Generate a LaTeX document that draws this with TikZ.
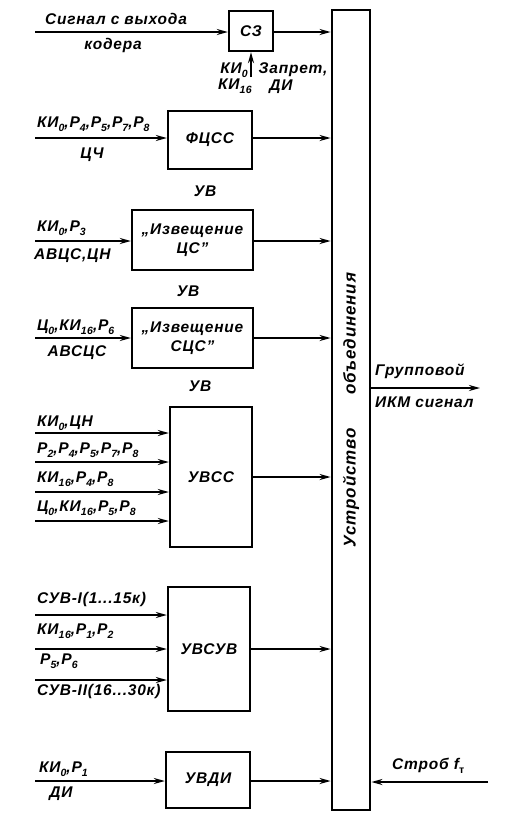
\documentclass[tikz,border=0pt]{standalone}
\usepackage{fontspec}
\setmainfont{Liberation Sans}
\newfontfamily\lblfont[LetterSpace=5]{Liberation Sans}
\usetikzlibrary{arrows.meta}
\newcommand\lowidx[1]{\raisebox{-0.45ex}{\fontsize{10.5}{10.5}\selectfont #1}}
\begin{document}
\begin{tikzpicture}[x=1pt,y=-1pt,
  blk/.style={draw, line width=2.3pt, inner sep=0pt, font=\lblfont\fontsize{15.5}{19}\selectfont\bfseries\itshape, align=center},
  lbl/.style={font=\lblfont\fontsize{15.5}{17}\selectfont\bfseries\itshape, inner sep=0pt},
  sig/.style={line width=2pt, -{Stealth[length=11pt,width=6pt]}}
]
\useasboundingbox (0,0) rectangle (517,815);
% blocks
\node[blk, minimum width=44pt, minimum height=40pt] (cz) at (251,31) {СЗ};
\node[blk, minimum width=84pt, minimum height=58pt] (fcss) at (210,140) {ФЦСС};
\node[blk, minimum width=121pt, minimum height=60pt] (izcs) at (192.5,240) {„Извещение\\ЦС”};
\node[blk, minimum width=121pt, minimum height=60pt] (izscs) at (192.5,338) {„Извещение\\СЦС”};
\node[blk, minimum width=82pt, minimum height=140pt] (uvss) at (211,477) {УВСС};
\node[blk, minimum width=82pt, minimum height=124pt] (uvsuv) at (209,649) {УВСУВ};
\node[blk, minimum width=84pt, minimum height=56pt] (uvdi) at (208,780) {УВДИ};
\node[draw, line width=2.8pt, minimum width=38pt, minimum height=800pt, inner sep=0pt] (big) at (351,410) {};
\node[lbl, rotate=90, font=\lblfont\fontsize{17}{19}\selectfont\bfseries\itshape] (bigt) at (351,410) {Устройство\hspace{34pt}объединения};

% input coordinates
\coordinate (i0) at (35,32);
\coordinate (i1) at (35,138);
\coordinate (i2) at (35,241);
\coordinate (i3) at (35,338);
\coordinate (i4a) at (35,433);
\coordinate (i4b) at (35,462);
\coordinate (i4c) at (35,492);
\coordinate (i4d) at (35,521);
\coordinate (i5a) at (35,615);
\coordinate (i5b) at (35,649);
\coordinate (i5c) at (35,680);
\coordinate (i6) at (35,781);
\coordinate (czin) at (251,77);
\coordinate (gout) at (480,388);
\coordinate (strob) at (488,782);

\draw[sig] (i0) -- (cz.west |- i0);
\draw[sig] (czin) -- (cz.south);
\draw[sig] (i1) -- (fcss.west |- i1);
\draw[sig] (i2) -- (izcs.west |- i2);
\draw[sig] (i3) -- (izscs.west |- i3);
\foreach \c in {i4a,i4b,i4c,i4d} \draw[sig] (\c) -- (uvss.west |- \c);
\foreach \c in {i5a,i5b,i5c} \draw[sig] (\c) -- (uvsuv.west |- \c);
\draw[sig] (i6) -- (uvdi.west |- i6);

% outputs
\draw[sig] (cz.east |- i0) -- (big.west |- i0);
\draw[sig] (fcss.east |- i1) -- (big.west |- i1);
\draw[sig] (izcs.east |- i2) -- (big.west |- i2);
\draw[sig] (izscs.east |- i3) -- (big.west |- i3);
\draw[sig] (uvss.east) -- (big.west |- uvss.east);
\draw[sig] (uvsuv.east) -- (big.west |- uvsuv.east);
\draw[sig] (uvdi.east |- i6) -- (big.west |- i6);
\draw[sig] (big.east |- gout) -- (gout);
\draw[sig] (strob) -- (big.east |- strob);

% labels
\node[lbl] (l0a) at (116,19) {Сигнал с выхода};
\node[lbl] (l0b) at (113,45) {кодера};
\node[lbl] (l0c) at (234,70) {КИ\lowidx{0}};
\node[lbl] (l0d) at (235,86) {КИ\lowidx{16}};
\node[lbl] (l0e) at (293,70) {Запрет,};
\node[lbl] (l0f) at (281,87) {ДИ};

\node[lbl, anchor=west] (l1a) at (37,124) {КИ\lowidx{0},Р\lowidx{4},Р\lowidx{5},Р\lowidx{7},Р\lowidx{8}};
\node[lbl] (l1b) at (92,155) {ЦЧ};
\node[lbl] (uv1) at (205,191) {УВ};

\node[lbl, anchor=west] (l2a) at (37,228) {КИ\lowidx{0},Р\lowidx{3}};
\node[lbl, anchor=west] (l2b) at (34,256) {АВЦС,ЦН};
\node[lbl] (uv2) at (188,291) {УВ};

\node[lbl, anchor=west] (l3a) at (37,327) {Ц\lowidx{0},КИ\lowidx{16},Р\lowidx{6}};
\node[lbl] (l3b) at (77,353) {АВСЦС};
\node[lbl] (uv3) at (200,386) {УВ};

\node[lbl, anchor=west] (l4a) at (37,423) {КИ\lowidx{0},ЦН};
\node[lbl, anchor=west] (l4b) at (37,450) {Р\lowidx{2},Р\lowidx{4},Р\lowidx{5},Р\lowidx{7},Р\lowidx{8}};
\node[lbl, anchor=west] (l4c) at (37,479) {КИ\lowidx{16},Р\lowidx{4},Р\lowidx{8}};
\node[lbl, anchor=west] (l4d) at (37,508) {Ц\lowidx{0},КИ\lowidx{16},Р\lowidx{5},Р\lowidx{8}};

\node[lbl, anchor=west] (l5a) at (37,599) {СУВ-I(1...15к)};
\node[lbl, anchor=west] (l5b) at (37,631) {КИ\lowidx{16},Р\lowidx{1},Р\lowidx{2}};
\node[lbl, anchor=west] (l5c) at (40,661) {Р\lowidx{5},Р\lowidx{6}};
\node[lbl, anchor=west] (l5d) at (37,691) {СУВ-II(16...30к)};

\node[lbl, anchor=west] (l6a) at (39,769) {КИ\lowidx{0},Р\lowidx{1}};
\node[lbl] (l6b) at (61,794) {ДИ};

\node[lbl, anchor=west] (go1) at (375,371) {Групповой};
\node[lbl, anchor=west] (go2) at (375,402) {ИКМ сигнал};
\node[lbl, anchor=west] (st) at (392,766) {Строб f\lowidx{\upshape т}};
\end{tikzpicture}
\end{document}
